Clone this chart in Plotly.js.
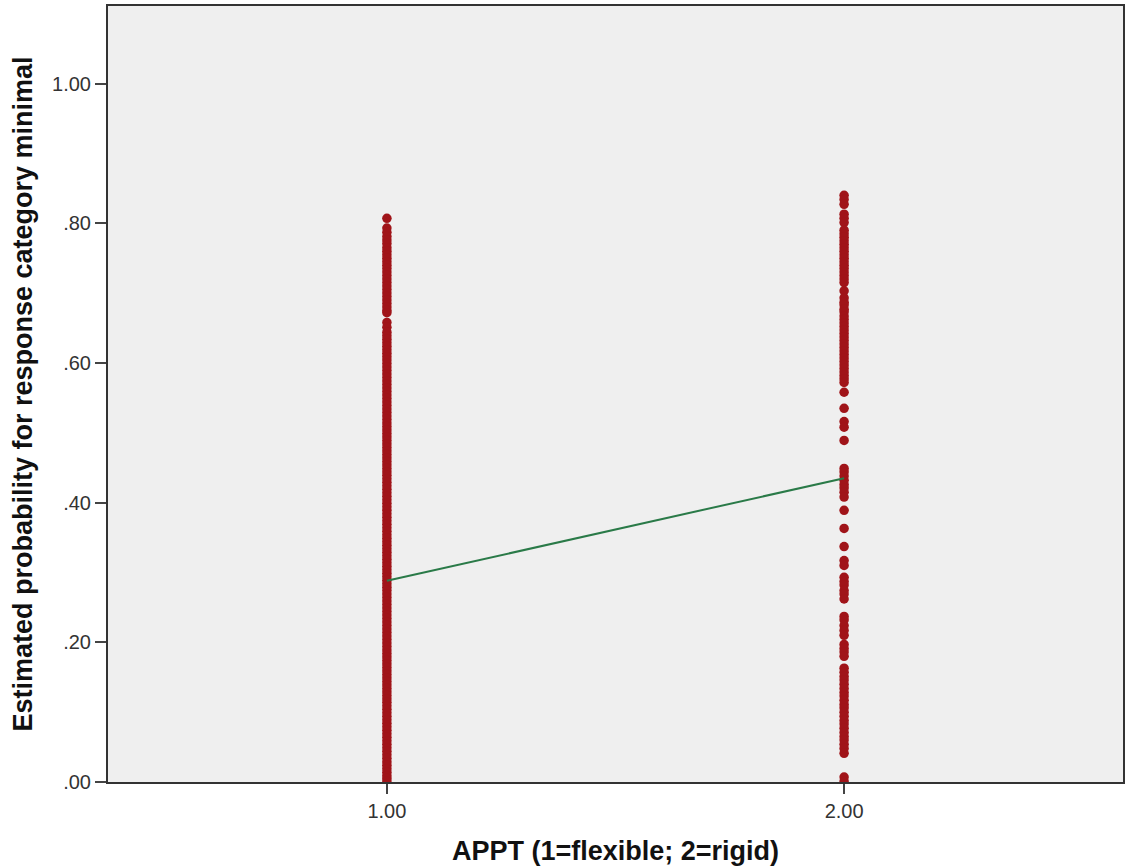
<!DOCTYPE html>
<html>
<head>
<meta charset="utf-8">
<script src="https://cdn.plot.ly/plotly-3.0.1.min.js"></script>
<style>html,body{margin:0;padding:0;background:#fff;}#chart{width:1125px;height:867px;}</style>
</head>
<body>
<div id="chart"></div>
<script>
// APPT groups (1=flexible; 2=rigid)
const groupFlexibleX = 1;
const groupRigidX = 2;

// Estimated probabilities, flexible group
const flexibleProbs = [
  0.807, 0.793, 0.787, 0.781, 0.776, 0.771,
  0.765, 0.760, 0.755, 0.750, 0.745, 0.740, 0.735, 0.730, 0.725, 0.720,
  0.715, 0.710, 0.705, 0.700, 0.695, 0.690, 0.685, 0.680, 0.675, 0.672,
  0.658, 0.651,
  0.644, 0.639, 0.634, 0.629, 0.624, 0.619, 0.614, 0.609, 0.604, 0.599,
  0.594, 0.589, 0.584, 0.579, 0.574, 0.569, 0.564, 0.559, 0.554, 0.549,
  0.544, 0.539, 0.534, 0.529, 0.524, 0.519, 0.514, 0.509, 0.504, 0.499,
  0.494, 0.489, 0.484, 0.479, 0.474, 0.469, 0.464, 0.459, 0.454, 0.449,
  0.444, 0.439, 0.434, 0.429, 0.424, 0.419, 0.414, 0.409, 0.404, 0.399,
  0.394, 0.389, 0.384, 0.379, 0.374, 0.369, 0.364, 0.359, 0.354, 0.349,
  0.344, 0.339, 0.334, 0.329, 0.324, 0.319, 0.314, 0.309, 0.304, 0.299,
  0.294, 0.289, 0.284, 0.279, 0.274, 0.269, 0.264, 0.259, 0.254, 0.249,
  0.244, 0.239, 0.234, 0.229, 0.224, 0.219, 0.214, 0.209, 0.204, 0.199,
  0.194, 0.189, 0.184, 0.179, 0.174, 0.169, 0.164, 0.159, 0.154, 0.149,
  0.144, 0.139, 0.134, 0.129, 0.124, 0.119, 0.114, 0.109, 0.104, 0.099,
  0.094, 0.089, 0.084, 0.079, 0.074, 0.069, 0.064, 0.059, 0.054, 0.049,
  0.044, 0.039, 0.034, 0.029, 0.024, 0.019, 0.014, 0.009, 0.005, 0.001
];

// Estimated probabilities, rigid group
const rigidProbs = [
  0.840, 0.834, 0.827, 0.813, 0.807, 0.801,
  0.790, 0.785, 0.780, 0.775, 0.770, 0.765, 0.760, 0.755, 0.750, 0.745,
  0.740, 0.735, 0.730, 0.725, 0.720, 0.715,
  0.703,
  0.693, 0.687, 0.683, 0.677, 0.673, 0.667, 0.662, 0.657, 0.652, 0.647,
  0.642, 0.637, 0.632, 0.627, 0.622, 0.617, 0.612, 0.607, 0.602, 0.597,
  0.592, 0.587, 0.582, 0.577, 0.572,
  0.558, 0.535, 0.516, 0.508, 0.489,
  0.449, 0.444, 0.438, 0.432, 0.426, 0.421, 0.415, 0.408,
  0.389, 0.363, 0.337,
  0.317, 0.310,
  0.293, 0.287, 0.282, 0.274, 0.269, 0.262,
  0.237, 0.232, 0.224, 0.217, 0.210,
  0.197, 0.191, 0.186, 0.180,
  0.163, 0.157, 0.151, 0.146, 0.140, 0.134, 0.128, 0.123, 0.117, 0.111,
  0.106, 0.100, 0.094, 0.088, 0.083, 0.077, 0.071, 0.065, 0.060, 0.054,
  0.048, 0.041,
  0.007, 0.001
];

// Fitted line (group means)
const fitX = [1, 2];
const fitY = [0.288, 0.435];

const yTickVals = [0, 0.2, 0.4, 0.6, 0.8, 1.0];
const yTickText = ['.00', '.20', '.40', '.60', '.80', '1.00'];
const xTickVals = [1, 2];
const xTickText = ['1.00', '2.00'];

const markerColor = '#a01419';
const points = {
  type: 'scatter', mode: 'markers',
  x: flexibleProbs.map(() => groupFlexibleX).concat(rigidProbs.map(() => groupRigidX)),
  y: flexibleProbs.concat(rigidProbs),
  marker: {color: markerColor, size: 9.5, line: {width: 0}},
  hoverinfo: 'x+y', showlegend: false
};
const fit = {
  type: 'scatter', mode: 'lines', x: fitX, y: fitY,
  line: {color: '#2a7a48', width: 2}, showlegend: false
};

const font = 'Liberation Sans, Arial, sans-serif';
const layout = {
  width: 1125, height: 867,
  margin: {l: 108, r: 2, t: 6, b: 85, pad: 0},
  paper_bgcolor: '#ffffff', plot_bgcolor: '#efefef',
  font: {family: font, color: '#222'},
  xaxis: {
    range: [0.39, 2.61], tickvals: xTickVals, ticktext: xTickText,
    ticks: 'outside', ticklen: 10, tickwidth: 2, tickcolor: '#444',
    showgrid: false, zeroline: false,
    showline: true, linecolor: '#333', linewidth: 2, mirror: true,
    tickfont: {family: font, size: 20, color: '#333'},
    title: {text: 'APPT (1=flexible; 2=rigid)', standoff: 20, font: {family: font, size: 27, color: '#111', weight: 'bold'}}
  },
  yaxis: {
    range: [0, 1.111], tickvals: yTickVals, ticktext: yTickText,
    ticks: 'outside', ticklen: 11, tickwidth: 2, tickcolor: '#444',
    showgrid: false, zeroline: false,
    showline: true, linecolor: '#333', linewidth: 2, mirror: true,
    tickfont: {family: font, size: 20, color: '#333'},
    title: {text: 'Estimated probability for response category minimal', standoff: 12, font: {family: font, size: 27, color: '#111', weight: 'bold'}}
  },
  showlegend: false
};
Plotly.newPlot('chart', [points, fit], layout, {displayModeBar: false, staticPlot: true});
</script>
</body>
</html>
